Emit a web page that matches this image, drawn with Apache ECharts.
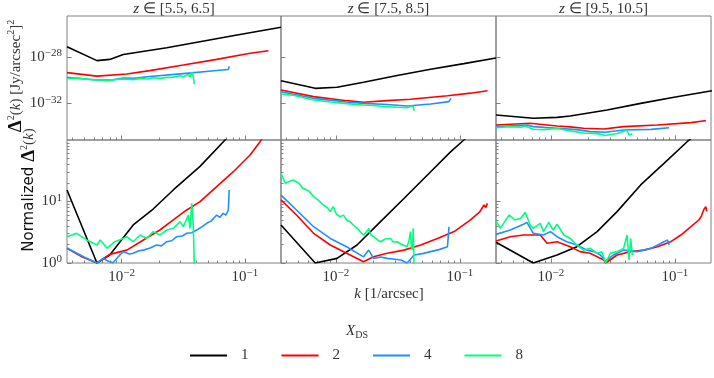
<!DOCTYPE html>
<html>
<head>
<meta charset="utf-8">
<script src="https://cdn.jsdelivr.net/npm/echarts@6/dist/echarts.min.js"></script>
<style>
  html, body { margin: 0; padding: 0; background: #fff; }
  #chart { width: 714px; height: 378px; }
</style>
</head>
<body>
<div id="chart"></div>
<script>
// shared axes
const kRange = [0.0036, 0.196];          // k [1/arcsec]
const kMajorTicks = [0.01, 0.1];
const specRange = [7.1e-36, 3.2e-25];    // Δ²(k) [Jy/arcsec²]²
const specMajorTicks = [1e-32, 1e-28];
const normRange = [1, 100];              // normalized Δ²(k)
const normMajorTicks = [1, 10];
const zBins = ["[5.5, 6.5]", "[7.5, 8.5]", "[9.5, 10.5]"];
const xdsNames = ["1", "2", "4", "8"];
const xdsColors = ["#000000", "#ff0000", "#1e90ff", "#00ff7f"];

// top row: Δ²(k), pairs of [k, value]
const spec6_1 = [[0.0036, 7.4e-28], [0.0063, 4.7e-29], [0.008, 6.0e-29], [0.0103, 1.6e-28], [0.0232, 6.0e-28], [0.0798, 6.5e-27], [0.196, 3.4e-26]];
const spec6_2 = [[0.0036, 4.4e-30], [0.0063, 2.2e-30], [0.011, 3.3e-30], [0.0169, 6.5e-30], [0.0316, 1.95e-29], [0.059, 6.0e-29], [0.11, 2.0e-28], [0.155, 3.3e-28]];
const spec6_4 = [[0.0036, 1.7e-30], [0.0063, 1.0e-30], [0.0085, 1.05e-30], [0.0103, 1.5e-30], [0.0124, 1.4e-30], [0.0169, 2.0e-30], [0.0316, 3.6e-30], [0.059, 6.6e-30], [0.0733, 8.0e-30], [0.0745, 1.5e-29]];
const spec6_8 = [[0.0036, 1.35e-30], [0.0043, 1.5e-30], [0.0052, 1.2e-30], [0.0063, 1.0e-30], [0.0076, 0.9e-30], [0.0088, 1.1e-30], [0.0103, 1.25e-30], [0.0124, 1.1e-30], [0.0141, 1.4e-30], [0.016, 1.25e-30], [0.018, 1.6e-30], [0.0204, 1.4e-30], [0.0232, 1.7e-30], [0.0262, 1.8e-30], [0.0298, 2.35e-30], [0.0316, 1.95e-30], [0.0347, 3.0e-30], [0.0358, 1.8e-30], [0.037, 4.6e-30], [0.0381, 2.0e-30], [0.0388, 4.5e-31]];

const spec8_1 = [[0.0036, 8.9e-31], [0.0068, 1.95e-31], [0.0102, 2.4e-31], [0.0167, 6.5e-31], [0.0312, 2.5e-30], [0.0581, 8.5e-30], [0.108, 2.6e-29], [0.196, 8.0e-29]];
const spec8_2 = [[0.0036, 1.4e-31], [0.0066, 3.8e-32], [0.0122, 1.7e-32], [0.0167, 1.23e-32], [0.0259, 1.7e-32], [0.04, 2.24e-32], [0.0794, 4.5e-32], [0.122, 7.5e-32], [0.1675, 1.23e-31]];
const spec8_4 = [[0.0036, 1.0e-31], [0.0066, 2.7e-32], [0.0122, 1.3e-32], [0.0167, 1.0e-32], [0.0259, 8.0e-33], [0.0376, 5.9e-33], [0.0582, 8.9e-33], [0.0818, 1.4e-32], [0.0846, 2.7e-32]];
const spec8_8 = [[0.0036, 6.3e-32], [0.0045, 5.0e-32], [0.0066, 1.95e-32], [0.009, 1.3e-32], [0.0122, 9.5e-33], [0.0167, 7.2e-33], [0.0201, 6.5e-33], [0.0229, 5.6e-33], [0.0312, 4.6e-33], [0.0376, 4.2e-33], [0.04, 5.5e-33], [0.0414, 4.0e-33], [0.0421, 6.0e-33], [0.0427, 2.3e-33]];

const spec10_1 = [[0.0036, 1.0e-33], [0.0072, 5.2e-34], [0.0112, 6.2e-34], [0.0143, 8.3e-34], [0.0284, 2.7e-33], [0.053, 1.0e-32], [0.0986, 3.3e-32], [0.1995, 1.23e-31]];
const spec10_2 = [[0.0036, 1.38e-34], [0.0068, 1.95e-34], [0.0093, 1.4e-34], [0.0112, 1.15e-34], [0.0143, 9.5e-35], [0.0183, 7.2e-35], [0.0267, 6.3e-35], [0.0386, 1.0e-34], [0.0724, 1.38e-34], [0.135, 2.2e-34], [0.163, 2.9e-34], [0.178, 3.3e-34]];
const spec10_4 = [[0.0036, 1.0e-34], [0.0064, 1.38e-34], [0.0072, 1.0e-34], [0.0112, 7.2e-35], [0.0162, 5.5e-35], [0.0207, 3.7e-35], [0.0276, 3.3e-35], [0.0386, 5.1e-35], [0.0643, 5.8e-35], [0.09, 8.1e-35]];
const spec10_8 = [[0.0036, 8.1e-35], [0.0046, 1.0e-34], [0.0057, 9.0e-35], [0.0062, 1.15e-34], [0.0072, 6.0e-35], [0.0087, 5.5e-35], [0.0112, 7.0e-35], [0.0143, 4.3e-35], [0.0183, 2.8e-35], [0.0236, 2.5e-35], [0.0276, 1.7e-35], [0.0342, 2.6e-35], [0.0411, 4.8e-35], [0.0427, 1.9e-35], [0.0454, 2.3e-35]];

// bottom row: normalized Δ²(k), pairs of [k, value]
const norm6_1 = [[0.0036, 15.4], [0.0063, 1.0], [0.008, 1.35], [0.0124, 4.15], [0.018, 7.55], [0.0262, 15.4], [0.0432, 37.2], [0.0689, 100], [0.196, 740]];
const norm6_2 = [[0.0036, 1.73], [0.0048, 1.25], [0.0063, 1.0], [0.008, 1.38], [0.011, 1.62], [0.015, 2.37], [0.0204, 3.44], [0.0262, 5.01], [0.0337, 7.28], [0.0432, 9.93], [0.059, 17.4], [0.0805, 30.5], [0.11, 57], [0.132, 93], [0.155, 150]];
const norm6_4 = [[0.0036, 1.75], [0.0049, 1.26], [0.0063, 1.0], [0.0071, 1.19], [0.0077, 1.08], [0.0085, 1.01], [0.0095, 1.3], [0.0103, 1.53], [0.0115, 1.4], [0.0124, 1.44], [0.0138, 1.58], [0.015, 1.62], [0.017, 1.75], [0.0192, 1.96], [0.021, 1.9], [0.0232, 2.22], [0.0255, 2.3], [0.0279, 2.68], [0.031, 2.75], [0.0337, 3.04], [0.037, 3.1], [0.0406, 3.44], [0.045, 3.9], [0.0489, 4.42], [0.053, 4.8], [0.059, 6.03], [0.0625, 5.5], [0.0666, 6.43], [0.07, 6.0], [0.0733, 7.28], [0.0745, 15.4]];
const norm6_8 = [[0.0036, 2.68], [0.0043, 3.04], [0.0052, 2.37], [0.0063, 1.96], [0.0067, 2.37], [0.0076, 1.73], [0.0088, 2.22], [0.0103, 2.51], [0.011, 2.68], [0.0124, 2.22], [0.0141, 2.85], [0.016, 2.51], [0.018, 3.24], [0.0204, 2.85], [0.0232, 3.44], [0.0262, 3.66], [0.0298, 4.7], [0.0316, 3.89], [0.0347, 6.03], [0.0358, 3.66], [0.037, 9.33], [0.0381, 4.0], [0.0388, 0.9]];

const norm8_1 = [[0.0036, 4.15], [0.0068, 1.0], [0.0102, 1.19], [0.0148, 1.96], [0.0229, 4.7], [0.0354, 11.2], [0.0582, 30.5], [0.0846, 64.6], [0.105, 95.5], [0.196, 300]];
const norm8_2 = [[0.0036, 10.6], [0.0048, 6.03], [0.0066, 3.04], [0.009, 1.96], [0.0122, 1.44], [0.0167, 1.05], [0.0201, 1.26], [0.0259, 1.44], [0.0354, 1.62], [0.0483, 1.96], [0.066, 2.51], [0.09, 3.24], [0.122, 5.01], [0.145, 6.8], [0.157, 8.77], [0.162, 8.0], [0.167, 9.33]];
const norm8_4 = [[0.0036, 12.7], [0.0048, 7.28], [0.0066, 3.89], [0.009, 2.51], [0.0122, 1.84], [0.0167, 1.26], [0.0184, 1.62], [0.0201, 1.19], [0.023, 1.25], [0.0259, 1.19], [0.03, 1.15], [0.0334, 1.12], [0.0376, 1.0], [0.0427, 1.35], [0.05, 1.42], [0.0582, 1.53], [0.068, 1.65], [0.0795, 1.84], [0.0818, 3.89]];
const norm8_8 = [[0.0036, 28.7], [0.0039, 19.8], [0.0045, 22.4], [0.005, 20.0], [0.0054, 16.4], [0.006, 15.0], [0.0066, 12.0], [0.0072, 10.5], [0.0079, 8.77], [0.0085, 8.0], [0.009, 6.84], [0.0095, 8.24], [0.0101, 6.2], [0.0108, 5.66], [0.0115, 6.0], [0.0122, 5.01], [0.013, 4.7], [0.0138, 4.15], [0.015, 3.6], [0.016, 3.1], [0.0167, 2.85], [0.0176, 3.2], [0.0184, 3.66], [0.019, 2.9], [0.0201, 2.68], [0.0215, 2.4], [0.0229, 2.22], [0.025, 2.45], [0.0276, 2.51], [0.029, 2.2], [0.0312, 2.22], [0.034, 2.0], [0.0376, 1.84], [0.039, 2.4], [0.04, 3.24], [0.0407, 1.8], [0.0414, 1.62], [0.0421, 3.66], [0.0427, 0.85]];

const norm10_1 = [[0.0036, 2.17], [0.0072, 1.0], [0.0112, 1.35], [0.0162, 1.84], [0.0236, 3.24], [0.0342, 6.84], [0.053, 18.6], [0.0818, 41.7], [0.127, 95.5], [0.1995, 195]];
const norm10_2 = [[0.0036, 2.28], [0.0047, 2.68], [0.006, 2.85], [0.0082, 2.85], [0.0093, 2.09], [0.0112, 2.22], [0.0143, 1.84], [0.0172, 1.53], [0.0207, 1.44], [0.0267, 1.12], [0.0276, 1.0], [0.0342, 1.35], [0.044, 1.53], [0.0564, 1.62], [0.0724, 1.84], [0.0929, 2.22], [0.112, 2.85], [0.135, 3.89], [0.156, 5.0], [0.163, 5.66], [0.172, 7.5], [0.178, 8.24], [0.181, 6.9]];
const norm10_4 = [[0.0036, 2.92], [0.0047, 3.44], [0.006, 4.27], [0.0064, 4.57], [0.0072, 3.04], [0.0087, 2.85], [0.0099, 3.24], [0.0112, 2.68], [0.0134, 2.22], [0.0162, 1.96], [0.0195, 1.62], [0.0222, 1.53], [0.0251, 1.35], [0.0276, 1.07], [0.032, 1.35], [0.0386, 1.62], [0.0496, 1.53], [0.0643, 1.73], [0.0774, 2.09], [0.0873, 2.37], [0.09, 1.96]];
const norm10_8 = [[0.0036, 4.82], [0.0039, 3.66], [0.0046, 6.03], [0.0051, 5.01], [0.0057, 5.33], [0.0062, 6.67], [0.0068, 4.15], [0.0072, 3.66], [0.0082, 4.42], [0.0087, 3.24], [0.0096, 4.57], [0.0104, 3.44], [0.0112, 4.27], [0.0127, 2.85], [0.0143, 2.51], [0.0162, 1.96], [0.0183, 1.62], [0.0208, 1.73], [0.0236, 1.44], [0.0258, 1.53], [0.0276, 1.0], [0.0302, 1.44], [0.0342, 1.53], [0.0386, 1.73], [0.0411, 2.85], [0.0427, 1.12], [0.044, 2.51], [0.0454, 1.35]];

const specData = [[spec6_1, spec6_2, spec6_4, spec6_8], [spec8_1, spec8_2, spec8_4, spec8_8], [spec10_1, spec10_2, spec10_4, spec10_8]];
const normData = [[norm6_1, norm6_2, norm6_4, norm6_8], [norm8_1, norm8_2, norm8_4, norm8_8], [norm10_1, norm10_2, norm10_4, norm10_8]];

const lg = Math.log10;
const serif = "Liberation Serif";
const sans = "DejaVu Sans";
const ink = "#333";
const frame = "#808080";

const colLeft = [67, 281, 496];
const colWidth = [214, 215, 215];
const rowTop = [16, 140];
const rowHeight = [124, 123];

const xExt = kRange.map(lg);
const rowExt = [specRange.map(lg), normRange.map(lg)];
const rowMajor = [specMajorTicks.map(lg), normMajorTicks.map(lg)];

// minor ticks of a log axis at 2..9 x 10^n
function minorTicks(ext) {
  const out = [];
  for (let e = Math.floor(ext[0]); e < ext[1]; e++) {
    for (let m = 2; m <= 9; m++) {
      const v = e + lg(m);
      if (v > ext[0] && v < ext[1]) out.push(v);
    }
  }
  return out;
}

const supRich = {
  b: { fontFamily: serif, fontSize: 15, color: ink, lineHeight: 18 },
  s: { fontFamily: serif, fontSize: 11, color: ink, lineHeight: 12, verticalAlign: "top" },
};

function powLabel(v) {
  const e = Math.round(v);
  return "{b|10}{s|" + (e < 0 ? "\u2212" + -e : e) + "}";
}

function tickAxis(grid, pos, ext, ticks, len, label) {
  return {
    type: "value",
    gridIndex: grid,
    position: pos,
    min: ext[0],
    max: ext[1],
    axisLine: { show: false, onZero: false },
    splitLine: { show: false },
    axisTick: { show: ticks.length > 0, inside: true, length: len, customValues: ticks, lineStyle: { color: frame, width: 1 } },
    axisLabel: label
      ? { show: true, customValues: ticks, formatter: powLabel, rich: supRich, margin: 5, color: ink }
      : { show: false },
  };
}

const grids = [], xAxes = [], yAxes = [], series = [];
for (let r = 0; r < 2; r++) {
  for (let c = 0; c < 3; c++) {
    const gi = r * 3 + c;
    grids.push({
      left: colLeft[c], top: rowTop[r], width: colWidth[c], height: rowHeight[r],
      show: true, borderColor: frame, borderWidth: 1, backgroundColor: "transparent",
    });
    xAxes.push(tickAxis(gi, "bottom", xExt, kMajorTicks.map(lg), 4.5, r === 1));
    xAxes.push(tickAxis(gi, "bottom", xExt, minorTicks(xExt), 2.5, false));
    yAxes.push(tickAxis(gi, "left", rowExt[r], rowMajor[r], 4.5, c === 0));
    yAxes.push(tickAxis(gi, "left", rowExt[r], r === 1 ? minorTicks(rowExt[r]) : [], 2.5, false));

    const curves = (r === 0 ? specData : normData)[c];
    curves.forEach((pts, i) => {
      series.push({
        type: "line",
        name: xdsNames[i],
        xAxisIndex: gi * 2,
        yAxisIndex: gi * 2,
        data: pts.map(([k, v]) => [lg(k), lg(v)]),
        symbol: "none",
        clip: true,
        silent: true,
        z: 2 + i,
        lineStyle: { color: xdsColors[i], width: 1.6 },
        itemStyle: { color: xdsColors[i] },
      });
    });
  }
}

const textRich = {
  t: { fontFamily: serif, fontSize: 15, fill: ink, lineHeight: 18 },
  i: { fontFamily: serif, fontSize: 15, fontStyle: "italic", fill: ink, lineHeight: 18 },
  p: { fontFamily: serif, fontSize: 10, fill: ink, lineHeight: 11, verticalAlign: "top" },
  q: { fontFamily: serif, fontSize: 10, fill: ink, lineHeight: 11, verticalAlign: "bottom" },
  d: { fontFamily: serif, fontSize: 19, fontWeight: "bold", fill: "#111", lineHeight: 20 },
  n: { fontFamily: sans, fontSize: 15, fill: "#111", lineHeight: 18 },
};

function label(x, y, text, rot) {
  return {
    type: "text", x, y, rotation: rot || 0, silent: true,
    style: { text, rich: textRich, align: "center", verticalAlign: "middle", fill: ink, fontFamily: serif, fontSize: 15 },
  };
}

const graphics = zBins.map((z, c) => label(colLeft[c] + colWidth[c] / 2, 9, "{i|z}{t| \u2208 " + z + "}"));
graphics.push(label(389, 294, "{i|k}{t| [1/arcsec]}"));
graphics.push(label(357, 331, "{i|X}{q|DS}"));
graphics.push(label(16, 76, "{d|\u0394}{p|2}{t|(}{i|k}{t|) [Jy/arcsec}{p|2}{t|]}{p|2}", Math.PI / 2));
graphics.push(label(29, 190, "{n|Normalized }{d|\u0394}{p|2}{t|(}{i|k}{t|)}", Math.PI / 2));

const chart = echarts.init(document.getElementById("chart"));
chart.setOption({
  animation: false,
  backgroundColor: "#fff",
  grid: grids,
  xAxis: xAxes,
  yAxis: yAxes,
  series,
  graphic: graphics,
  legend: {
    data: xdsNames,
    left: 190,
    top: 348,
    padding: 0,
    icon: "rect",
    itemWidth: 37,
    itemHeight: 2,
    itemGap: 33,
    selectedMode: false,
    textStyle: { fontFamily: serif, fontSize: 15, color: ink, padding: [0, 0, 0, 9] },
  },
});
</script>
</body>
</html>
